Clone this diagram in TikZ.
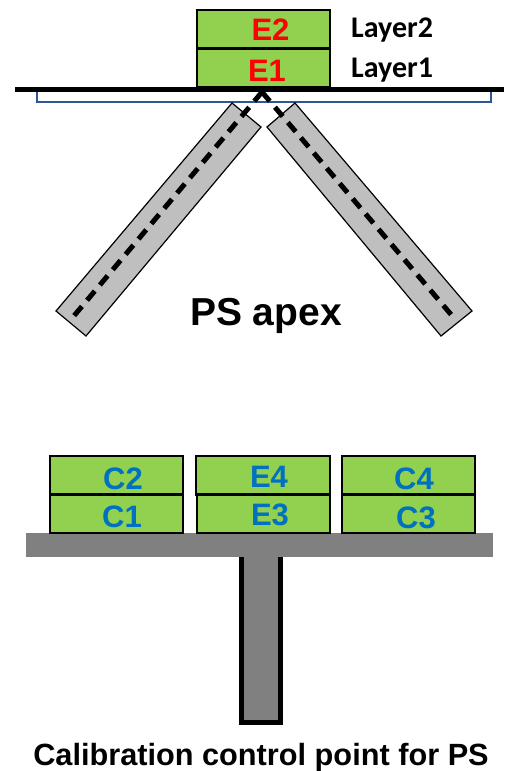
\documentclass[tikz,border=0pt]{standalone}
\usepackage{fontspec}
\setmainfont{Liberation Sans}
\newfontfamily\layerfont{Carlito}
\definecolor{padgreen}{HTML}{92D050}
\definecolor{labelblue}{HTML}{0070C0}
\definecolor{stripgray}{HTML}{BFBFBF}
\definecolor{barblue}{HTML}{2F5597}
\definecolor{bargray}{HTML}{808080}
\tikzset{
  pad/.style={draw=black,line width=2.3pt,fill=padgreen,minimum width=#1,minimum height=38.5pt,inner sep=0pt,outer sep=0pt,anchor=north west},
  pad/.default=133pt,
  tagtext/.style={font=\bfseries\fontsize{31}{31}\selectfont,inner sep=0pt,anchor=base},
  redtag/.style={tagtext,text=red},
  bluetag/.style={tagtext,text=labelblue},
  layertag/.style={font=\layerfont\bfseries\fontsize{30}{30}\selectfont,inner sep=0pt,anchor=base west},
  strip/.style={draw=black,line width=1.2pt,fill=stripgray,line join=miter},
  fibre/.style={line width=5pt,draw=black,dash pattern=on 12pt off 8pt}
}
\begin{document}
\begin{tikzpicture}[x=1pt,y=-1pt]
\useasboundingbox (0,0) rectangle (504,771);
% apex
\draw[draw=barblue,line width=1.2pt,fill=white] (37,90) rectangle (491,102);
\node[pad] (e2) at (197,10) {};
\node[pad] (e1) at (197,49) {};
\draw[line width=5pt] (15,89) -- (504,89);
\draw[strip] (232,103) -- (261,127) -- (86,336) -- (56,311) -- cycle;
\draw[strip] (295,103) -- (267,127) -- (441,336) -- (472,311) -- cycle;
\coordinate (apex) at (262,92);
\coordinate (endl) at (73,317);
\coordinate (endr) at (454,318);
\draw[fibre] (apex) -- (endl);
\draw[fibre] (apex) -- (endr);
\node[redtag] (te2) at (270.5,40.5) {E2};
\node[redtag] (te1) at (267,81) {E1};
\node[layertag] (l2) at (351,37) {Layer2};
\node[layertag] (l1) at (351,77) {Layer1};
\node[inner sep=0pt,anchor=base,font=\bfseries\fontsize{39}{39}\selectfont] (ps) at (266,325) {PS apex};
% calibration
\fill[bargray] (26,533) rectangle (493,557);
\node[pad] (c2) at (50,456) {};
\node[pad] (c1) at (50,494.5) {};
\node[pad=134pt] (e4) at (196,456) {};
\node[pad] (e3) at (197,494.5) {};
\node[pad] (c4) at (342,456) {};
\node[pad] (c3) at (342,494.5) {};
\fill[bargray] (241,557) rectangle (281,724);
\draw[line width=5pt,line join=miter] (241.5,557) -- (241.5,722) -- (280,722) -- (280,557);
\node[bluetag] (tc2) at (123,489) {C2};
\node[bluetag] (tc1) at (122,527) {C1};
\node[bluetag] (te4) at (269,487) {E4};
\node[bluetag] (te3) at (270,525) {E3};
\node[bluetag] (tc4) at (414,489) {C4};
\node[bluetag] (tc3) at (416,528) {C3};
\node[inner sep=0pt,anchor=base,font=\bfseries\fontsize{30.7}{30.7}\selectfont] (cap) at (261,765) {Calibration control point for PS};
\end{tikzpicture}
\end{document}
